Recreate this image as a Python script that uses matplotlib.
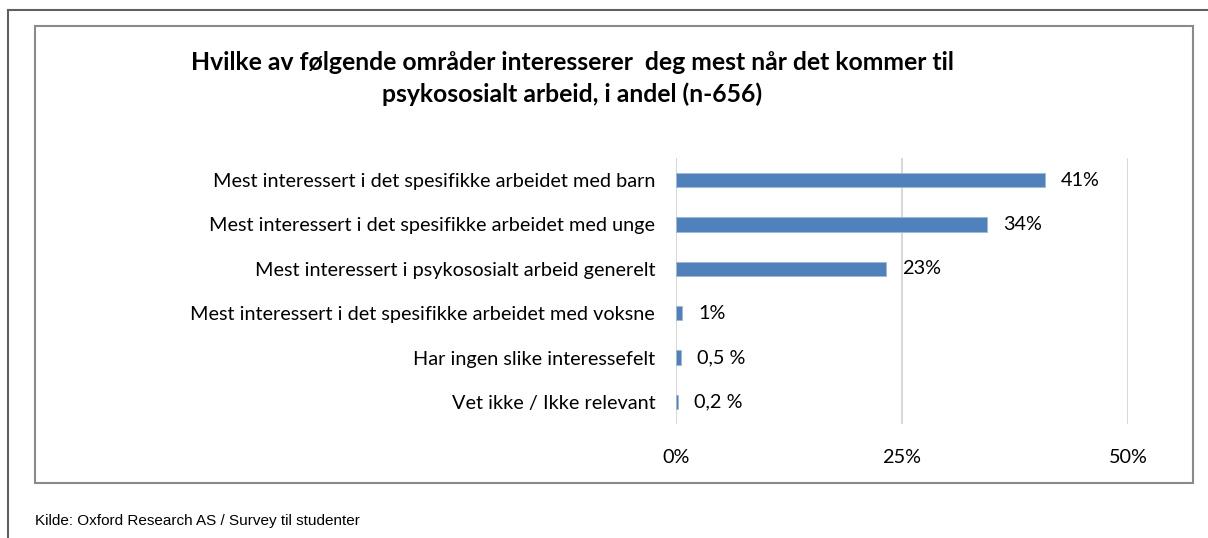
import matplotlib
matplotlib.use("Agg")
import matplotlib.pyplot as plt
from matplotlib.patches import Rectangle
from matplotlib.lines import Line2D

categories = [
    "Mest interessert i det spesifikke arbeidet med barn",
    "Mest interessert i det spesifikke arbeidet med unge",
    "Mest interessert i psykososialt arbeid generelt",
    "Mest interessert i det spesifikke arbeidet med voksne",
    "Har ingen slike interessefelt",
    "Vet ikke / Ikke relevant",
]
values = [40.8, 34.4, 23.2, 0.7, 0.5, 0.2]
value_labels = ["41%", "34%", "23%", "1%", "0,5 %", "0,2 %"]
xticks = [0, 25, 50]
xtick_labels = ["0%", "25%", "50%"]
title = "Hvilke av følgende områder interesserer  deg mest når det kommer til\npsykososialt arbeid, i andel (n-656)"
source = "Kilde: Oxford Research AS / Survey til studenter"

W, H = 1208, 538
fig = plt.figure(figsize=(W / 100, H / 100), dpi=100)
fig.patch.set_facecolor("white")

def fx(x):
    return x / W

def fy(y):
    return 1 - y / H

# outer frame (left and top lines)
fig.add_artist(Line2D([fx(8), fx(8)], [fy(10), fy(538)], color="#606060", lw=1.5, transform=fig.transFigure))
fig.add_artist(Line2D([fx(8), fx(1208)], [fy(10), fy(10)], color="#606060", lw=1.5, transform=fig.transFigure))
# inner chart box
fig.add_artist(Rectangle((fx(35), fy(483)), fx(1193) - fx(35), fy(26) - fy(483),
                         fill=False, edgecolor="#8a8a8a", lw=1.5, transform=fig.transFigure))

# axes: x 0 -> 676, 50 -> 1128 ; y top 158 bottom 424
x0, x50 = 676, 1128
ax = fig.add_axes([fx(x0), fy(424), fx(x50) - fx(x0), fy(158) - fy(424)])
ax.set_xlim(0, 50)
n = len(categories)
ax.set_ylim(n - 0.5, -0.5)
pos = list(range(n))
ax.barh(pos, values, height=0.32, color="#4F81BD", edgecolor="#9DB8DA", linewidth=0.6, zorder=3)
for p, v, lab in zip(pos, values, value_labels):
    ax.annotate(lab, (v, p), xytext=(16, 0), textcoords="offset pixels",
                ha="left", va="center", fontsize=14.3, family="Lato", color="black")
ax.set_yticks(pos)
ax.set_yticklabels(categories, fontsize=14.3, family="Lato")
ax.set_xticks(xticks)
ax.set_xticklabels(xtick_labels, fontsize=14.3, family="Lato")
ax.tick_params(axis="both", length=0)
ax.tick_params(axis="y", pad=15)
ax.tick_params(axis="x", pad=18)
ax.grid(axis="x", color="#d9d9d9", lw=1.5, zorder=0)
for s in ax.spines.values():
    s.set_visible(False)

fig.text(fx(572), fy(78.5), title, ha="center", va="center", fontsize=17.8, fontweight="bold",
         family="Lato", linespacing=1.42)
fig.text(fx(35), fy(521), source, ha="left", va="center", fontsize=11, family="Liberation Sans")

fig.savefig("out.png", dpi=100, facecolor="white")
